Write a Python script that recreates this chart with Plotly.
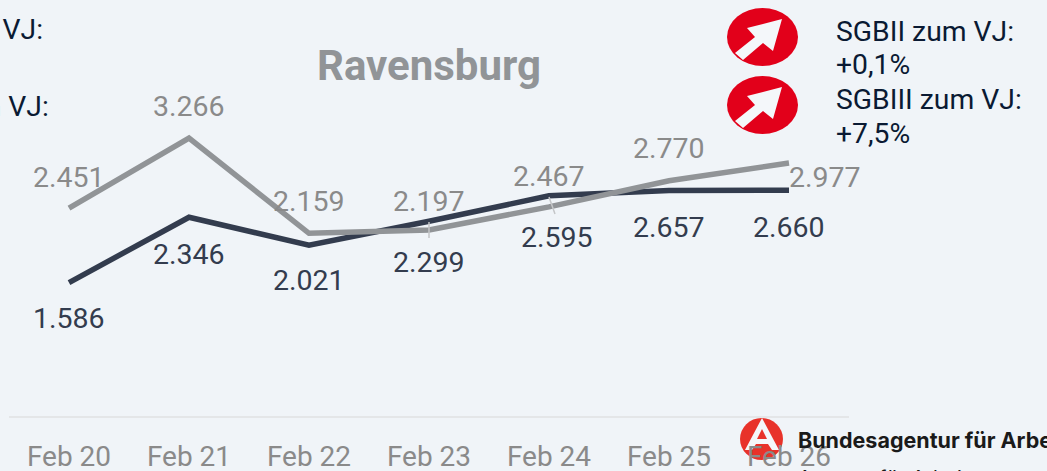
import plotly.graph_objects as go

W, H = 1047, 471
ML, MR, MT, MB = 9, 198, 72, 55

categories = ["Feb 20", "Feb 21", "Feb 22", "Feb 23", "Feb 24", "Feb 25", "Feb 26"]
sgb2_values = [2451, 3266, 2159, 2197, 2467, 2770, 2977]
sgb3_values = [1586, 2346, 2021, 2299, 2595, 2657, 2660]
sgb2_labels = ["2.451", "3.266", "2.159", "2.197", "2.467", "2.770", "2.977"]
sgb3_labels = ["1.586", "2.346", "2.021", "2.299", "2.595", "2.657", "2.660"]

sgb2_offsets = [(0, 31), (0, 32), (0, 32), (0, 29), (0, 30), (0, 32), (36, -15)]
sgb3_offsets = [(0, -36), (0, -37), (0, -35), (0, -41), (8, -42), (0, -37), (0, -37)]

GRAY = "#919497"
DARK = "#333c4e"
LABEL_GRAY = "#8a8a8a"
LABEL_DARK = "#333c4e"
TEXT = "#0a1a33"
BG = "#f0f4f8"
RED = "#e2001a"
LOGO_RED = "#e8322a"
PALE = "#f4f7fa"


def px(x):
    return (x - ML) / (W - ML - MR)


def py(y):
    return 1 - (y - MT) / (H - MT - MB)


def poly(points):
    return "M " + " L ".join(f"{px(a):.5f},{py(b):.5f}" for a, b in points) + " Z"


fig = go.Figure()
fig.add_trace(go.Scatter(x=categories, y=sgb3_values, mode="lines",
                         line=dict(color=DARK, width=5.5), hoverinfo="skip"))
fig.add_trace(go.Scatter(x=categories, y=sgb2_values, mode="lines",
                         line=dict(color=GRAY, width=5.5), hoverinfo="skip"))

annotations = []
for cat, v, lab, (dx, dy) in zip(categories, sgb2_values, sgb2_labels, sgb2_offsets):
    annotations.append(dict(x=cat, y=v, text=lab, showarrow=False, xshift=dx, yshift=dy,
                            font=dict(size=28.5, color=LABEL_GRAY, family="Roboto")))
for cat, v, lab, (dx, dy) in zip(categories, sgb3_values, sgb3_labels, sgb3_offsets):
    annotations.append(dict(x=cat, y=v, text=lab, showarrow=False, xshift=dx, yshift=dy,
                            font=dict(size=28.5, color=LABEL_DARK, family="Roboto")))


def note(x, y, text, size=28.3, color=TEXT, anchor="left", family="Roboto", weight=None):
    f = dict(size=size, color=color, family=family)
    if weight:
        f["weight"] = weight
    annotations.append(dict(x=px(x), y=py(y), xref="paper", yref="paper", text=text,
                            showarrow=False, xanchor=anchor, yanchor="middle", font=f, align=anchor))


note(429, 66, "Ravensburg", size=42, color=GRAY, anchor="center", weight=700)
note(45, 29, "SGBII zum VJ:", anchor="right")
note(51, 107, "SGBIII zum VJ:", anchor="right")
note(834, 31, "SGBII zum VJ:")
note(834, 65, "+0,1%")
note(834, 99, "SGBIII zum VJ:")
note(834, 133, "+7,5%")
note(796, 440, "Bundesagentur für Arbeit", size=21.5, color="#1a1a1a", family="Inter", weight=700)
note(796, 478, "Agentur für Arbeit", size=20, color="#1a1a1a", family="Inter")

shapes = []
for top in (8, 76):
    shapes.append(dict(type="circle", xref="paper", yref="paper", layer="below",
                       x0=px(727), x1=px(798), y0=py(top), y1=py(top + 58),
                       fillcolor=RED, line=dict(width=0)))
    arrow = [(782, 19), (747, 28), (755, 37), (735, 53), (743, 60), (763, 43), (773, 51)]
    shapes.append(dict(type="path", xref="paper", yref="paper", layer="below",
                       path=poly([(a, b + top - 8) for a, b in arrow]),
                       fillcolor=PALE, line=dict(width=0)))

# Bundesagentur logo
shapes.append(dict(type="circle", xref="paper", yref="paper", layer="below",
                   x0=px(740), x1=px(783), y0=py(418), y1=py(460),
                   fillcolor=LOGO_RED, line=dict(width=0)))
shapes.append(dict(type="path", xref="paper", yref="paper", layer="below",
                   path=poly([(762, 418), (745, 450), (752, 450), (756, 444), (768, 444), (772, 450), (779, 450)]),
                   fillcolor=PALE, line=dict(width=0)))
shapes.append(dict(type="path", xref="paper", yref="paper", layer="below",
                   path=poly([(762, 429), (757, 439), (767, 439)]),
                   fillcolor=LOGO_RED, line=dict(width=0)))

# leader lines of the two data labels that sit on the line
for x0, y0, x1, y1 in [(429, 222, 429, 238), (549, 197, 555, 214)]:
    shapes.append(dict(type="line", xref="paper", yref="paper", x0=px(x0), x1=px(x1), y0=py(y0), y1=py(y1),
                       line=dict(color="#c4c6c8", width=1.5)))

fig.update_layout(
    width=W, height=H, autosize=False,
    margin=dict(l=ML, r=MR, t=MT, b=MB, autoexpand=False),
    paper_bgcolor=BG, plot_bgcolor=BG, showlegend=False,
    annotations=annotations, shapes=shapes,
    xaxis=dict(type="category", range=[-0.5, 6.5], showgrid=False, zeroline=False, automargin=False,
               showline=True, linecolor="#e4e6e8", linewidth=1.5, ticks="",
               tickfont=dict(size=28, color=LABEL_GRAY, family="Roboto"), ticklabelstandoff=15),
    yaxis=dict(range=[35, 4035], visible=False, automargin=False),
)
fig.write_html("out.html", config=dict(displayModeBar=False),
               post_script="document.body.style.margin='0';document.documentElement.style.overflow='hidden';")
